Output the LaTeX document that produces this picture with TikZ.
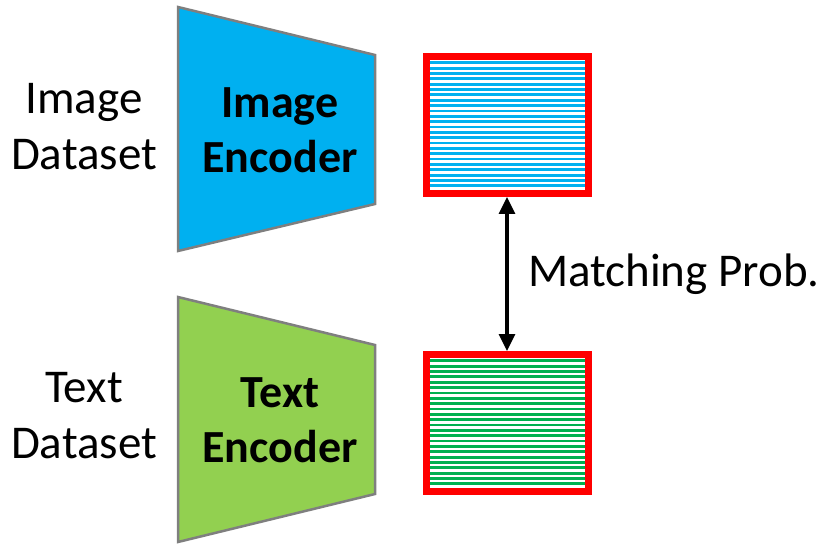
\documentclass[tikz,border=0pt]{standalone}
\usepackage{fontspec}
\setmainfont{Carlito}
\usetikzlibrary{arrows.meta, positioning, calc}

\definecolor{encblue}{HTML}{00B0F0}
\definecolor{encgreen}{HTML}{92D050}
\definecolor{stripegreen}{HTML}{00B050}
\definecolor{edgegray}{HTML}{7F7F7F}

\begin{document}
\begin{tikzpicture}[
    x=1pt, y=1pt,
    every node/.style={font=\fontsize{47}{56}\selectfont},
    dataset/.style={align=center, inner sep=0pt},
    encoder/.style={draw=edgegray, line width=2.5pt, line join=miter},
    enclabel/.style={align=center, inner sep=0pt, font=\fontsize{46}{55}\selectfont\bfseries},
    embed/.style={rectangle, draw=red, line width=7pt, minimum width=162pt, minimum height=137pt, inner sep=0pt, outer sep=3.5pt},
    stripe/.style={line width=2.8pt},
    arrow/.style={{Triangle[length=17pt,width=16pt]}-{Triangle[length=17pt,width=16pt]}, line width=3.2pt}
]
\useasboundingbox (0,0) rectangle (829,544);

% encoders
\draw[encoder, fill=encblue] (178,537) -- (375,489) -- (375,340) -- (178,293) -- cycle;
\draw[encoder, fill=encgreen] (178,247) -- (375,199) -- (375,50) -- (178,2) -- cycle;
\node[enclabel] (imgenc) at (280,414) {Image\\Encoder};
\node[enclabel] (txtenc) at (280,124) {Text\\Encoder};

% inputs
\node[dataset] (imgdata) at (84,417) {Image\\Dataset};
\node[dataset] (txtdata) at (84,128) {Text\\Dataset};

% embeddings
\node[embed] (imgemb) at (507,419) {};
\node[embed] (txtemb) at (507,121) {};
\foreach \k in {0,...,23} {
  \draw[stripe, encblue] ($(imgemb.north west)+(7,-9.8-\k*5.35)$) -- ($(imgemb.north east)+(-7,-9.8-\k*5.35)$);
  \draw[stripe, stripegreen] ($(txtemb.north west)+(7,-9.8-\k*5.35)$) -- ($(txtemb.north east)+(-7,-9.8-\k*5.35)$);
}

\draw[arrow] (imgemb.south) -- (txtemb.north);
\coordinate (mid) at ($(imgemb.south)!0.5!(txtemb.north)$);
\node[right=21pt of mid, inner sep=0pt] (match) {Matching Prob.};
\end{tikzpicture}
\end{document}
